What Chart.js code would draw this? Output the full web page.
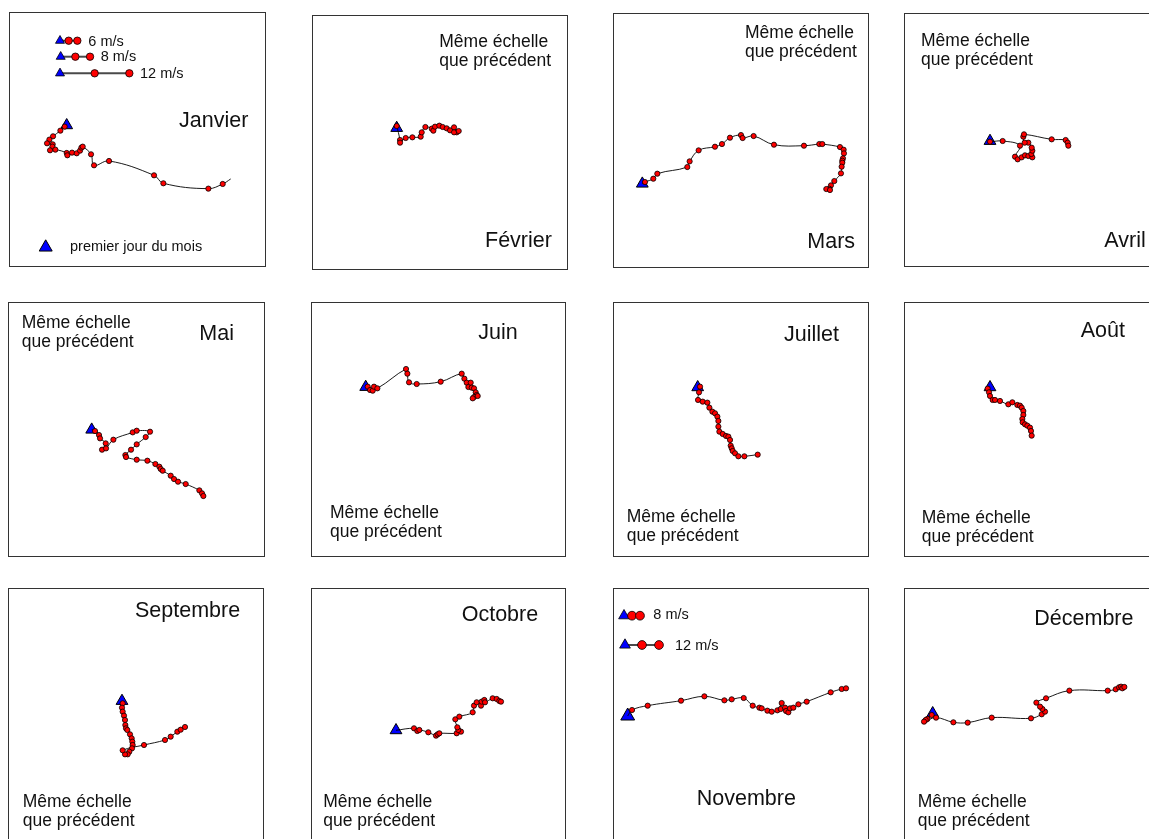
<!DOCTYPE html>
<html lang="fr">
<head>
<meta charset="utf-8">
<title>Trajectoires mensuelles</title>
<script src="https://cdn.jsdelivr.net/npm/chart.js@4.4.1/dist/chart.umd.min.js"></script>
<style>
  html, body { margin: 0; padding: 0; background: #fff; }
  body { width: 1149px; height: 839px; overflow: hidden; position: relative;
         font-family: "Liberation Sans", Arial, sans-serif; color: #111; }
  .panneau { position: absolute; }
  .panneau canvas { position: absolute; left: 0; top: 0; }
  .cadre { position: absolute; left: 0; top: 0; right: 0; bottom: 0;
           border: 1px solid #333; box-sizing: border-box; pointer-events: none; }
  .txt { position: absolute; white-space: nowrap; }
  .mois { font-size: 21.5px; line-height: 21.5px; }
  .note { font-size: 17.5px; line-height: 19px; }
  .leg  { font-size: 14.5px; line-height: 14.5px; }
</style>
</head>
<body>
<script>
// Déplacements cumulés (est, nord) jour après jour, relatifs au premier jour du mois.
const moisNoms = ['Janvier', 'Février', 'Mars', 'Avril', 'Mai', 'Juin',
                  'Juillet', 'Août', 'Septembre', 'Octobre', 'Novembre', 'Décembre'];

const janvier = [[-6,-4],[-19,-16],[-41,-33],[-52,-43],[-59,-54],[-42,-57],[-43,-64],[-50,-75],
  [-34,-73],[0,-83],[2,-90],[16,-82],[30,-84],[40,-76],[44,-67],[48,-64],[73,-87],[82,-120],
  [127,-107],[262,-150],[290,-174],[425,-190],[468,-176]];
const janvierFin = [[492,-161]];

const fevrier = [[0,6],[10,-36],[10,-44],[27,-30],[47,-28],[72,-26],[75,-13],[86,3],[105,-2],
  [110,-8],[115,4],[128,7],[138,3],[150,-1],[160,-7],[172,2],[180,-13],[172,-13],[186,-9]];

const mars = [[8,5],[33,15],[45,30],[135,50],[142,67],[169,100],[218,111],[239,119],[263,138],
  [296,146],[301,137],[334,143],[395,117],[485,114],[531,119],[540,119],[593,110],[604,102],
  [605,91],[602,76],[600,69],[600,63],[598,51],[596,31],[576,8],[566,-5],[561,-15],[552,-16],[563,-19]];

const avril = [[0,-2],[38,0],[90,-14],[75,-47],[83,-55],[95,-49],[105,-43],[115,-45],[127,-49],
  [124,-39],[127,-29],[125,-20],[115,-5],[104,-5],[100,13],[102,20],[185,5],[227,3],[233,-5],[235,-14]];

const mai = [[10,-4],[22,-16],[25,-26],[42,-41],[31,-60],[43,-56],[65,-30],[123,-8],[135,-3],
  [175,-6],[162,-22],[135,-44],[118,-60],[101,-76],[103,-82],[135,-90],[167,-93],[191,-103],
  [203,-111],[207,-118],[213,-123],[237,-138],[247,-148],[259,-156],[282,-163],[323,-182],
  [331,-191],[335,-199]];

const juin = [[6,1],[13,-9],[21,-11],[25,1],[35,-4],[121,54],[125,40],[130,14],[153,9],[225,16],
  [288,40],[296,25],[303,13],[308,0],[315,13],[318,-2],[325,-4],[330,-16],[333,-24],[325,-30],
  [321,-34],[336,-27]];

const juillet = [[7,2],[4,-15],[1,-38],[15,-43],[29,-46],[35,-61],[44,-73],[52,-78],[59,-88],
  [62,-101],[62,-118],[65,-133],[75,-140],[85,-146],[92,-148],[97,-158],[99,-175],[102,-183],
  [105,-191],[112,-198],[122,-207],[140,-207],[180,-202]];

const aout = [[-7,-4],[-3,-15],[0,-26],[8,-38],[15,-38],[30,-41],[55,-51],[67,-45],[82,-53],
  [90,-55],[95,-61],[100,-71],[100,-83],[97,-95],[98,-105],[105,-111],[112,-115],[120,-121],
  [123,-131],[125,-145]];

const septembre = [[2,-7],[0,-20],[2,-32],[6,-44],[9,-57],[10,-72],[12,-82],[16,-87],[24,-100],
  [29,-112],[31,-122],[32,-132],[30,-142],[22,-152],[17,-160],[9,-160],[2,-148],[66,-132],
  [129,-117],[146,-107],[166,-92],[176,-86],[189,-78]];

const octobre = [[54,6],[64,-2],[70,1],[97,-6],[120,-16],[125,-12],[130,-9],[182,-9],[195,-4],
  [187,1],[184,9],[178,33],[190,41],[230,54],[234,74],[242,84],[255,74],[257,86],[265,91],
  [267,84],[290,96],[302,94],[310,88],[315,86]];

const novembre = [[13,18],[60,31],[160,46],[230,59],[290,47],[312,50],[348,54],[375,31],[395,25],
  [402,23],[419,16],[432,13],[449,17],[462,39],[459,21],[472,25],[475,15],[482,11],[487,23],
  [497,25],[512,35],[537,43],[609,71],[642,81],[655,83]];

const decembre = [[-3,-5],[-16,-17],[-21,-20],[-26,-25],[10,-13],[62,-27],[105,-28],[177,-13],
  [295,-15],[327,-3],[337,5],[329,13],[322,20],[311,32],[340,45],[410,68],[525,68],[549,72],
  [559,78],[565,80],[569,75],[575,79]];

// Échelles de vitesse : écart entre deux positions journalières successives.
const legendeJanvierVitesses = ['6 m/s', '8 m/s', '12 m/s'];
const legendeJanvierPas = [26, 44, 104];
const legendeNovembreVitesses = ['8 m/s', '12 m/s'];
const legendeNovembrePas = [24, 51];

const noteEchelle = 'Même échelle<br>que précédent';
const notePremierJour = 'premier jour du mois';

// ---- mise en page ----
const UNITES_PAR_PX = 3;
const ROUGE = '#ff0000', BLEU = '#0000ff';

const panneaux = [
  { jours: janvier, fin: janvierFin, box: [9, 12, 257, 255],  origine: [57.7, 113.3],
    titre: [179, 109.5], note: null },
  { jours: fevrier,   box: [312, 15, 256, 255], origine: [84.7, 113],   titre: [485, 230.1],   note: [439.3, 32.1] },
  { jours: mars,      box: [613, 13, 256, 255], origine: [29.3, 170.7], titre: [807.3, 231.1], note: [745, 22.7] },
  { jours: avril,     box: [904, 13, 256, 254], origine: [86, 128],     titre: [1104.3, 230.1],note: [921, 31.1] },
  { jours: mai,       box: [8, 302, 257, 255],  origine: [83.7, 127.7], titre: [199.3, 322.8], note: [21.7, 312.7] },
  { jours: juin,      box: [311, 302, 255, 255],origine: [54.7, 85],    titre: [478.3, 321.8], note: [330, 502.7] },
  { jours: juillet,   box: [613, 302, 256, 255],origine: [84.7, 85.3],  titre: [784, 324.1],   note: [626.7, 506.7] },
  { jours: aout,      box: [904, 302, 256, 255],origine: [86, 85.3],    titre: [1080.7, 320.1],note: [921.7, 507.7] },
  { jours: septembre, box: [8, 588, 256, 256],  origine: [114, 113],    titre: [135, 599.5],   note: [22.7, 791.7] },
  { jours: octobre,   box: [311, 588, 255, 256],origine: [85, 142.3],   titre: [461.7, 604.1], note: [323.3, 791.7] },
  { jours: novembre,  box: [613, 588, 256, 256],origine: [14.7, 128],   titre: [696.7, 787.8], note: null, rayonDepart: 8 },
  { jours: decembre,  box: [904, 588, 256, 256],origine: [28.7, 125.3], titre: [1034.3, 607.5],note: [917.7, 791.7] }
];

// Échelles dessinées dans les panneaux : ancrage (px dans le panneau) et texte (px page)
panneaux[0].echelles = {
  vitesses: legendeJanvierVitesses, pas: legendeJanvierPas,
  ancres: [[51, 28.7], [51.7, 44.7], [51, 61.3]],
  textes: [[88.3, 33.7], [100.7, 49.4], [140, 66.4]],
  rayonTri: 5.2, rayonRond: 3.7
};
panneaux[0].premierJour = { ancre: [36.7, 235.3], texte: [70, 239.4] };
panneaux[10].echelles = {
  vitesses: legendeNovembreVitesses, pas: legendeNovembrePas,
  ancres: [[11, 27.7], [12, 57]],
  textes: [[653.3, 606.7], [675, 638.4]],
  rayonTri: 6.2, rayonRond: 4.4
};

function ajouterTexte(html, cls, pos) {
  const d = document.createElement('div');
  d.className = 'txt ' + cls;
  d.innerHTML = html;
  d.style.left = pos[0] + 'px';
  d.style.top = pos[1] + 'px';
  document.body.appendChild(d);
}

function vers(pt) { return { x: pt[0], y: pt[1] }; }

function dessinerPanneau(p, i) {
  const [bx, by, bw, bh] = p.box;
  const wrap = document.createElement('div');
  wrap.className = 'panneau';
  Object.assign(wrap.style, { left: bx + 'px', top: by + 'px', width: bw + 'px', height: bh + 'px' });
  const canvas = document.createElement('canvas');
  canvas.width = bw; canvas.height = bh;
  canvas.style.width = bw + 'px'; canvas.style.height = bh + 'px';
  const cadre = document.createElement('div');
  cadre.className = 'cadre';
  wrap.appendChild(canvas);
  wrap.appendChild(cadre);
  document.body.appendChild(wrap);

  const [ox, oy] = p.origine;
  const U = UNITES_PAR_PX;
  const pxVersUnites = (pt) => [(pt[0] - ox) * U, (oy - pt[1]) * U];

  const nJours = p.jours.length;
  const trace = [[0, 0]].concat(p.jours, p.fin || []);

  const datasets = [
    {
      label: moisNoms[i],
      data: trace.map(vers),
      showLine: true,
      borderColor: '#000',
      borderWidth: 0.9,
      tension: 0.4,
      pointRadius: (c) => (c.dataIndex === 0 || c.dataIndex > nJours) ? 0 : 2.6,
      pointBackgroundColor: ROUGE,
      pointBorderColor: '#000',
      pointBorderWidth: 0.8,
      clip: false,
      order: 1
    },
    {
      label: 'départ',
      data: [vers([0, 0])],
      pointStyle: 'triangle',
      pointRadius: p.rayonDepart || 6.8,
      pointBackgroundColor: BLEU,
      pointBorderColor: '#000',
      pointBorderWidth: 1,
      clip: false,
      order: 2
    }
  ];

  if (p.echelles) {
    const e = p.echelles;
    e.pas.forEach((pas, k) => {
      const [ax, ay] = pxVersUnites(e.ancres[k]);
      datasets.push({
        label: e.vitesses[k],
        data: [0, 1, 2].map(j => ({ x: ax + j * pas, y: ay })),
        showLine: true,
        borderColor: '#4a4a4a',
        borderWidth: 2,
        pointStyle: ['triangle', 'circle', 'circle'],
        pointRadius: [e.rayonTri, e.rayonRond, e.rayonRond],
        pointBackgroundColor: [BLEU, ROUGE, ROUGE],
        pointBorderColor: '#000',
        pointBorderWidth: 0.8,
        clip: false,
        order: 3
      });
      ajouterTexte(e.vitesses[k], 'leg', e.textes[k]);
    });
  }
  if (p.premierJour) {
    datasets.push({
      label: notePremierJour,
      data: [vers(pxVersUnites(p.premierJour.ancre))],
      pointStyle: 'triangle',
      pointRadius: 7.5,
      pointBackgroundColor: BLEU,
      pointBorderColor: '#000',
      pointBorderWidth: 1,
      clip: false,
      order: 3
    });
    ajouterTexte(notePremierJour, 'leg', p.premierJour.texte);
  }

  new Chart(canvas, {
    type: 'scatter',
    data: { datasets },
    options: {
      responsive: false,
      animation: false,
      events: [],
      layout: { padding: 0, autoPadding: false },
      plugins: { legend: { display: false }, tooltip: { enabled: false } },
      scales: {
        x: { type: 'linear', display: false, min: -ox * U, max: (bw - ox) * U },
        y: { type: 'linear', display: false, min: -(bh - oy) * U, max: oy * U }
      }
    }
  });

  ajouterTexte(moisNoms[i], 'mois', p.titre);
  if (p.note) ajouterTexte(noteEchelle, 'note', p.note);
}

panneaux.forEach(dessinerPanneau);
</script>
</body>
</html>
